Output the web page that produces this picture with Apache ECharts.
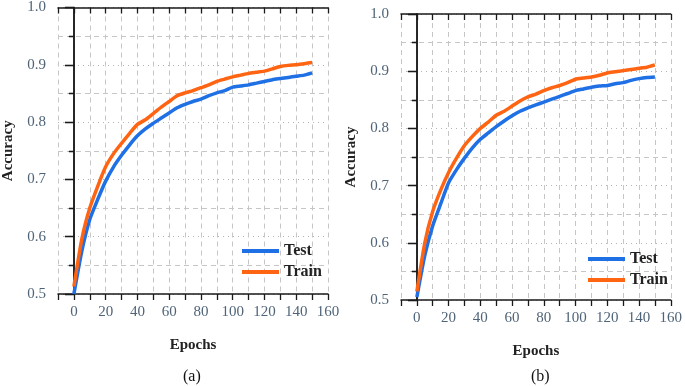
<!DOCTYPE html>
<html>
<head>
<meta charset="utf-8">
<script src="https://cdn.jsdelivr.net/npm/echarts@6/dist/echarts.min.js"></script>
<style>
  html, body { margin: 0; padding: 0; background: #fff; }
  #chart { width: 685px; height: 386px; }
</style>
</head>
<body>
<div id="chart"></div>
<script>
// epochs sampled every 5
const epochs = [0, 5, 10, 15, 20, 25, 30, 35, 40, 45, 50, 55, 60, 65, 70, 75, 80, 85, 90, 95, 100, 105, 110, 115, 120, 125, 130, 135, 140, 145, 150];

// (a)
const testA = [0.500, 0.575, 0.630, 0.665, 0.697, 0.722, 0.742, 0.760, 0.776, 0.788, 0.798, 0.807, 0.816, 0.825, 0.831, 0.836, 0.840, 0.846, 0.851, 0.855, 0.861, 0.863, 0.865, 0.868, 0.871, 0.874, 0.876, 0.878, 0.880, 0.882, 0.886];
const trainA = [0.513, 0.596, 0.650, 0.688, 0.722, 0.745, 0.763, 0.780, 0.796, 0.804, 0.815, 0.826, 0.836, 0.846, 0.851, 0.855, 0.860, 0.865, 0.871, 0.875, 0.879, 0.882, 0.885, 0.887, 0.889, 0.893, 0.897, 0.899, 0.900, 0.902, 0.904];

// (b)
const testB = [0.505, 0.578, 0.630, 0.668, 0.705, 0.728, 0.748, 0.766, 0.781, 0.792, 0.803, 0.813, 0.822, 0.830, 0.836, 0.841, 0.846, 0.851, 0.856, 0.861, 0.866, 0.869, 0.872, 0.874, 0.875, 0.878, 0.880, 0.884, 0.887, 0.889, 0.890];
const trainB = [0.515, 0.600, 0.655, 0.692, 0.723, 0.748, 0.770, 0.786, 0.800, 0.811, 0.823, 0.830, 0.839, 0.848, 0.855, 0.860, 0.866, 0.871, 0.875, 0.880, 0.886, 0.888, 0.890, 0.893, 0.897, 0.899, 0.901, 0.903, 0.905, 0.907, 0.911];

const xLabels = [0, 20, 40, 60, 80, 100, 120, 140, 160];
const seriesNames = ['Test', 'Train'];
const colors = ['#1f6fe5', '#ff6412'];

const serif = '"Liberation Serif", "DejaVu Serif", serif';
const labelColor = '#4f6478';
const axisColor = '#1a1a1a';

const pairs = (ys) => epochs.map((e, i) => [e, ys[i]]);

function xAxes(gi) {
  const base = {
    type: 'value', gridIndex: gi, min: -10, max: 160, interval: 10,
    axisLine: { show: true, lineStyle: { color: axisColor, width: 1.5 } },
  };
  return [
    Object.assign({}, base, {
      position: 'bottom',
      name: 'Epochs', nameLocation: 'middle', nameGap: 44,
      nameTextStyle: { fontFamily: serif, fontWeight: 'bold', fontSize: 15, color: '#222' },
      axisTick: { show: true, inside: false, length: 6, lineStyle: { color: axisColor, width: 1.3 } },
      axisLabel: {
        margin: 11, fontFamily: serif, fontSize: 15, color: labelColor,
        formatter: (v) => (xLabels.indexOf(v) >= 0 ? String(v) : '')
      },
      splitLine: { show: true, lineStyle: { color: '#c6c6c6', type: [5, 4], width: 1 } }
    }),
    Object.assign({}, base, {
      position: 'top',
      axisTick: { show: true, inside: true, length: 6, lineStyle: { color: axisColor, width: 1.3 } },
      axisLabel: { show: false },
      splitLine: { show: false }
    })
  ];
}

function yAxes(gi) {
  const base = {
    type: 'value', gridIndex: gi, min: 0.5, max: 1.0, interval: 0.1,
    axisLine: { show: true, lineStyle: { color: axisColor, width: 1.5 } },
  };
  return [
    Object.assign({}, base, {
      position: 'left',
      name: 'Accuracy', nameLocation: 'middle', nameGap: 42, nameRotate: 90,
      nameTextStyle: { fontFamily: serif, fontWeight: 'bold', fontSize: 15, color: '#222' },
      axisTick: { show: true, inside: false, length: 9, lineStyle: { color: axisColor, width: 1.3 } },
      minorTick: { show: true, splitNumber: 2, length: 5, lineStyle: { color: axisColor, width: 1.3 } },
      axisLabel: {
        margin: 12, fontFamily: serif, fontSize: 15, color: labelColor,
        formatter: (v) => v.toFixed(1)
      },
      splitLine: { show: true, lineStyle: { color: '#b4b4b4', type: [1, 4], width: 1.2 } },
      minorSplitLine: { show: true, lineStyle: { color: '#c6c6c6', type: [5, 4], width: 1 } }
    }),
    Object.assign({}, base, {
      position: 'right',
      axisTick: { show: true, inside: true, length: 9, lineStyle: { color: axisColor, width: 1.3 } },
      minorTick: { show: true, splitNumber: 2, length: 5, lineStyle: { color: axisColor, width: 1.3 } },
      axisLabel: { show: false },
      splitLine: { show: false }
    })
  ];
}

function lineSeries(name, ys, gi, color) {
  return {
    name: name, type: 'line', data: pairs(ys),
    xAxisIndex: gi * 2, yAxisIndex: gi * 2,
    showSymbol: false, symbol: 'none',
    lineStyle: { color: color, width: 3.5 },
    itemStyle: { color: color },
    smooth: 0.2, z: 5
  };
}

function legend(left, top) {
  return {
    data: seriesNames, orient: 'vertical', left: left, top: top,
    icon: 'rect', itemWidth: 37, itemHeight: 4, itemGap: 5,
    textStyle: { fontFamily: serif, fontWeight: 'bold', fontSize: 16, color: '#222' },
    selectedMode: false
  };
}

const chart = echarts.init(document.getElementById('chart'));

const option = {
  backgroundColor: '#fff',
  animation: false,
  color: colors,
  title: [
    { text: '(a)', left: 178, top: 364, textStyle: { fontFamily: serif, fontWeight: 'normal', fontSize: 16, color: '#111' } },
    { text: '(b)', left: 526, top: 364, textStyle: { fontFamily: serif, fontWeight: 'normal', fontSize: 16, color: '#111' } }
  ],
  legend: [legend(237, 238), legend(583, 246)],
  grid: [
    { left: 56, top: 7, width: 272, height: 287 },
    { left: 401, top: 14, width: 273, height: 286 }
  ],
  xAxis: xAxes(0).concat(xAxes(1)),
  yAxis: yAxes(0).concat(yAxes(1)),
  series: [
    lineSeries('Test', testA, 0, colors[0]),
    lineSeries('Train', trainA, 0, colors[1]),
    lineSeries('Test', testB, 1, colors[0]),
    lineSeries('Train', trainB, 1, colors[1])
  ]
};

chart.setOption(option);
</script>
</body>
</html>
